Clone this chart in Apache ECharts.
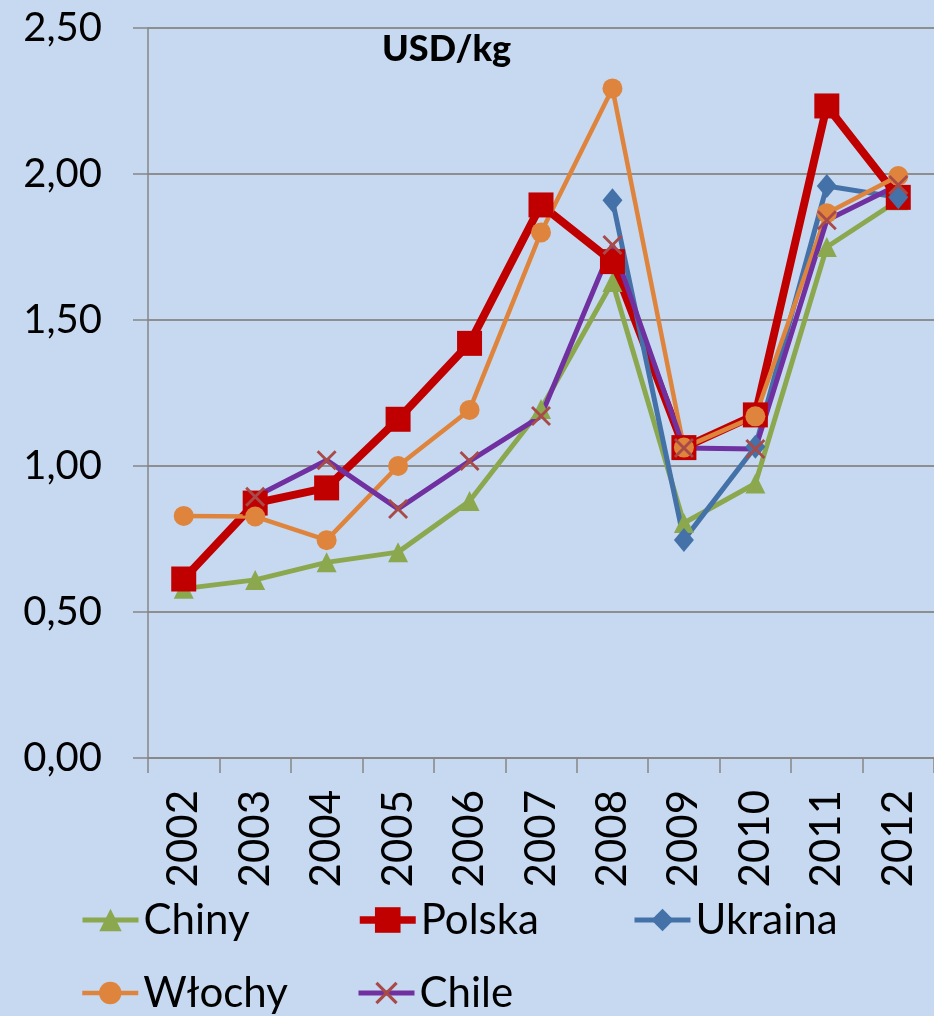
<!DOCTYPE html>
<html>
<head>
<meta charset="utf-8">
<script src="https://cdn.jsdelivr.net/npm/echarts@6/dist/echarts.min.js"></script>
<style>
  html, body { margin: 0; padding: 0; background: #c6d9f1; }
  #main { width: 934px; height: 1016px; }
</style>
</head>
<body>
<div id="main"></div>
<script>
var years = ['2002', '2003', '2004', '2005', '2006', '2007', '2008', '2009', '2010', '2011', '2012'];
var chiny = [0.58, 0.61, 0.67, 0.705, 0.88, 1.195, 1.63, 0.805, 0.94, 1.75, 1.91];
var polska = [0.613, 0.873, 0.925, 1.16, 1.42, 1.894, 1.70, 1.063, 1.175, 2.233, 1.92];
var ukraina = [null, null, null, null, null, null, 1.91, 0.747, 1.066, 1.959, 1.92];
var wlochy = [0.829, 0.827, 0.746, 1.0, 1.192, 1.80, 2.293, 1.063, 1.17, 1.866, 1.993];
var chile = [null, 0.895, 1.02, 0.853, 1.017, 1.171, 1.757, 1.062, 1.058, 1.842, 1.962];

var font = 'Lato, "Open Sans", sans-serif';
var crossPath = 'path://M0,1L1,0L10,9L9,10Z M9,0L10,1L1,10L0,9Z';

var myChart = echarts.init(document.getElementById('main'));

// one legend per item so the two rows line up in columns
function legendAt(name, left, top, h, lw) {
    return {
        data: [name],
        left: left,
        top: top,
        padding: 0,
        itemWidth: 56,
        itemHeight: h,
        itemGap: 0,
        selectedMode: false,
        lineStyle: { width: lw },
        textStyle: { fontFamily: font, fontSize: 42, color: '#000', padding: [0, 0, 0, 0] }
    };
}

var option = {
    backgroundColor: '#c6d9f1',
    animation: false,
    title: {
        text: 'USD/kg',
        left: 382,
        top: 31,
        padding: 0,
        textStyle: { fontFamily: font, fontSize: 36, fontWeight: 900, color: '#000' }
    },
    legend: [
        legendAt('Chiny', 80, 899, 28, 5),
        legendAt('Polska', 356, 899, 32, 7.5),
        legendAt('Ukraina', 632, 899, 28, 5),
        legendAt('Włochy', 80, 972, 28, 4.5),
        legendAt('Chile', 356, 972, 28, 5)
    ],
    grid: {
        left: 148,
        top: 28,
        width: 793,
        height: 730,
        containLabel: false
    },
    xAxis: {
        type: 'category',
        data: years,
        boundaryGap: true,
        axisLine: { lineStyle: { color: '#868686', width: 1.5 } },
        axisTick: { show: true, length: 15, lineStyle: { color: '#868686', width: 1.5 } },
        axisLabel: { rotate: 90, margin: 32, fontFamily: font, fontSize: 42, color: '#000' },
        splitLine: { show: false }
    },
    yAxis: {
        type: 'value',
        min: 0,
        max: 2.5,
        interval: 0.5,
        axisLine: { show: true, lineStyle: { color: '#868686', width: 1.5 } },
        axisTick: { show: true, length: 15, lineStyle: { color: '#868686', width: 1.5 } },
        axisLabel: {
            margin: 46,
            fontFamily: font,
            fontSize: 40,
            color: '#000',
            formatter: function (v) { return v.toFixed(2).replace('.', ','); }
        },
        splitLine: { lineStyle: { color: '#8e8e8e', width: 2 } }
    },
    series: [
        {
            name: 'Chiny', type: 'line', data: chiny,
            symbol: 'triangle', symbolSize: 20,
            itemStyle: { color: '#8ba84f' },
            lineStyle: { color: '#8ba84f', width: 5 }
        },
        {
            name: 'Polska', type: 'line', data: polska,
            symbol: 'rect', symbolSize: 25,
            itemStyle: { color: '#c00000' },
            lineStyle: { color: '#c00000', width: 8 }
        },
        {
            name: 'Ukraina', type: 'line', data: ukraina,
            symbol: 'diamond', symbolSize: [20, 24],
            itemStyle: { color: '#4472a8' },
            lineStyle: { color: '#4472a8', width: 5 }
        },
        {
            name: 'Włochy', type: 'line', data: wlochy,
            symbol: 'circle', symbolSize: 20,
            itemStyle: { color: '#df843c' },
            lineStyle: { color: '#df843c', width: 4.5 }
        },
        {
            name: 'Chile', type: 'line', data: chile,
            symbol: crossPath, symbolSize: 20,
            itemStyle: { color: '#a84a48' },
            lineStyle: { color: '#7030a0', width: 5 }
        }
    ]
};

myChart.setOption(option);
</script>
</body>
</html>
